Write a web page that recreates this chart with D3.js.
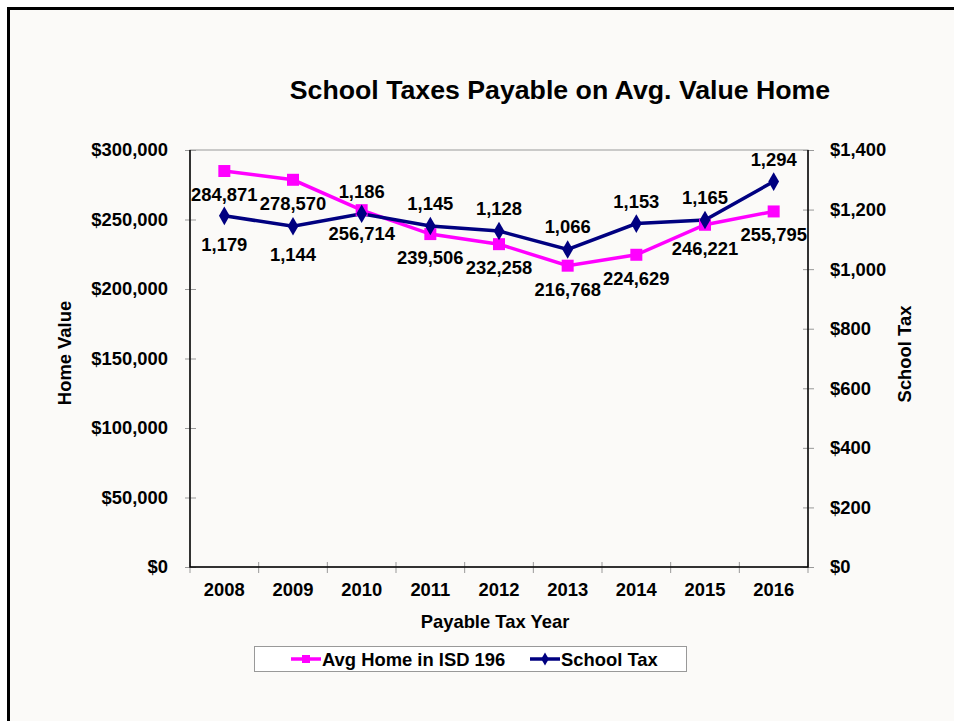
<!DOCTYPE html>
<html>
<head>
<meta charset="utf-8">
<title>School Taxes Payable on Avg. Value Home</title>
<style>
body { margin: 0; background: #fff; }
text {
  font-family: "Liberation Sans", Arial, sans-serif;
  font-weight: bold;
  fill: #000;
}
</style>
</head>
<body>
<script src="https://cdn.jsdelivr.net/npm/d3@7"></script>
<script>

var years = ["2008", "2009", "2010", "2011", "2012", "2013", "2014", "2015", "2016"];
var homeValues = [284871, 278570, 256714, 239506, 232258, 216768, 224629, 246221, 255795];
var schoolTax = [1179, 1144, 1186, 1145, 1128, 1066, 1153, 1165, 1294];
var homeTicks = [0, 50000, 100000, 150000, 200000, 250000, 300000];
var taxTicks = [0, 200, 400, 600, 800, 1000, 1200, 1400];
var seriesNames = ["Avg Home in ISD 196", "School Tax"];

var width = 954,
    height = 721;

var plot = {left: 190, right: 808, top: 150, bottom: 567};
var fs = "18.4px";

var svg = d3.select("body").append("svg")
    .attr("width", width)
    .attr("height", height);

// chart background + frame (top and left only)
svg.append("rect")
    .attr("x", 8).attr("y", 8)
    .attr("width", width - 8).attr("height", height - 8)
    .style("fill", "#fbfaf8");
svg.append("path")
    .attr("d", "M8.5," + height + "V8.5H" + width)
    .style("fill", "none")
    .style("stroke", "#000")
    .style("stroke-width", 3);

var x = d3.scaleBand()
    .domain(years)
    .range([plot.left, plot.right])
    .padding(0);

var yHome = d3.scaleLinear()
    .domain([0, 300000])
    .range([plot.bottom, plot.top]);

var yTax = d3.scaleLinear()
    .domain([0, 1400])
    .range([plot.bottom, plot.top]);

var cx = function(d, i) { return x(years[i]) + x.bandwidth() / 2; };

// plot area border (grey)
svg.append("rect")
    .attr("x", plot.left).attr("y", plot.top)
    .attr("width", plot.right - plot.left)
    .attr("height", plot.bottom - plot.top)
    .style("fill", "none")
    .style("stroke", "#999")
    .style("stroke-width", 1);

var money = d3.format(",");

// left axis
var gLeft = svg.append("g")
    .attr("transform", "translate(" + plot.left + ",0)")
    .call(d3.axisLeft(yHome)
        .tickValues(homeTicks)
        .tickFormat(function(d) { return "$" + money(d); })
        .tickSize(5)
        .tickPadding(17));

// right axis
var gRight = svg.append("g")
    .attr("transform", "translate(" + plot.right + ",0)")
    .call(d3.axisRight(yTax)
        .tickValues(taxTicks)
        .tickFormat(function(d) { return "$" + money(d); })
        .tickSize(5)
        .tickPadding(17));

[gLeft, gRight].forEach(function(g) {
  g.select(".domain").remove();
  g.selectAll(".tick line")
      .attr("x1", -5).attr("x2", 6)
      .style("stroke", "#999");
  g.selectAll(".tick text")
      .style("font-size", fs)
      .style("font-family", null);
});

// bottom axis: category boundary ticks
var gBottom = svg.append("g")
    .attr("transform", "translate(0," + plot.bottom + ")");

gBottom.selectAll("line.cat")
    .data(years.concat(["end"]))
    .enter().append("line")
    .attr("class", "cat")
    .attr("x1", function(d, i) { return i < years.length ? x(d) : plot.right; })
    .attr("x2", function(d, i) { return i < years.length ? x(d) : plot.right; })
    .attr("y1", -5).attr("y2", 6)
    .style("stroke", "#999");

gBottom.selectAll("text.cat")
    .data(years)
    .enter().append("text")
    .attr("class", "cat")
    .attr("x", function(d) { return x(d) + x.bandwidth() / 2; })
    .attr("y", 29)
    .attr("text-anchor", "middle")
    .style("font-size", fs)
    .text(function(d) { return d; });

// black axis lines
svg.append("path")
    .attr("d", "M" + plot.left + "," + plot.top + "V" + plot.bottom + "H" + plot.right + "V" + plot.top)
    .style("fill", "none")
    .style("stroke", "#000")
    .style("stroke-width", 1.5);

// titles
svg.append("text")
    .attr("x", 560).attr("y", 99)
    .attr("text-anchor", "middle")
    .style("font-size", "26.7px")
    .text("School Taxes Payable on Avg. Value Home");

svg.append("text")
    .attr("x", 495).attr("y", 628)
    .attr("text-anchor", "middle")
    .style("font-size", fs)
    .text("Payable Tax Year");

svg.append("text")
    .attr("transform", "translate(71,353) rotate(-90)")
    .attr("text-anchor", "middle")
    .style("font-size", fs)
    .text("Home Value");

svg.append("text")
    .attr("transform", "translate(911,354) rotate(-90)")
    .attr("text-anchor", "middle")
    .style("font-size", fs)
    .text("School Tax");

// lines
var homeLine = d3.line()
    .x(cx)
    .y(function(d) { return yHome(d); });

var taxLine = d3.line()
    .x(cx)
    .y(function(d) { return yTax(d); });

svg.append("path")
    .datum(homeValues)
    .attr("d", homeLine)
    .style("fill", "none")
    .style("stroke", "#ff00ff")
    .style("stroke-width", 3.5);

svg.append("path")
    .datum(schoolTax)
    .attr("d", taxLine)
    .style("fill", "none")
    .style("stroke", "#000080")
    .style("stroke-width", 3.5);

// markers
var square = d3.symbol().type(d3.symbolSquare).size(144);
var diamond = d3.symbol().type(d3.symbolDiamond).size(100);

svg.selectAll("path.home")
    .data(homeValues)
    .enter().append("path")
    .attr("class", "home")
    .attr("d", square)
    .attr("transform", function(d, i) { return "translate(" + cx(d, i) + "," + yHome(d) + ")"; })
    .style("fill", "#ff00ff");

svg.selectAll("path.tax")
    .data(schoolTax)
    .enter().append("path")
    .attr("class", "tax")
    .attr("d", diamond)
    .attr("transform", function(d, i) { return "translate(" + cx(d, i) + "," + yTax(d) + ")"; })
    .style("fill", "#000080");

// data labels
svg.selectAll("text.homeLabel")
    .data(homeValues)
    .enter().append("text")
    .attr("class", "homeLabel")
    .attr("x", cx)
    .attr("y", function(d) { return yHome(d) + 30; })
    .attr("text-anchor", "middle")
    .style("font-size", fs)
    .text(function(d) { return money(d); });

svg.selectAll("text.taxLabel")
    .data(schoolTax)
    .enter().append("text")
    .attr("class", "taxLabel")
    .attr("x", cx)
    .attr("y", function(d, i) { return i < 2 ? yTax(d) + 35 : yTax(d) - 16; })
    .attr("text-anchor", "middle")
    .style("font-size", fs)
    .text(function(d) { return money(d); });

// legend
var legend = svg.append("g");

legend.append("rect")
    .attr("x", 254.5).attr("y", 646.5)
    .attr("width", 432).attr("height", 25)
    .style("fill", "#fff")
    .style("stroke", "#999");

var legendX = [291, 530];
var legendColors = ["#ff00ff", "#000080"];
var legendSymbols = [d3.symbol().type(d3.symbolSquare).size(64), d3.symbol().type(d3.symbolDiamond).size(50)];

seriesNames.forEach(function(name, i) {
  var lx = legendX[i];
  legend.append("line")
      .attr("x1", lx).attr("x2", lx + 30)
      .attr("y1", 659).attr("y2", 659)
      .style("stroke", legendColors[i])
      .style("stroke-width", 3.5);
  legend.append("path")
      .attr("d", legendSymbols[i])
      .attr("transform", "translate(" + (lx + 15) + ",659)")
      .style("fill", legendColors[i]);
  legend.append("text")
      .attr("x", lx + 31).attr("y", 665.5)
      .style("font-size", fs)
      .text(name);
});

</script>
</body>
</html>
